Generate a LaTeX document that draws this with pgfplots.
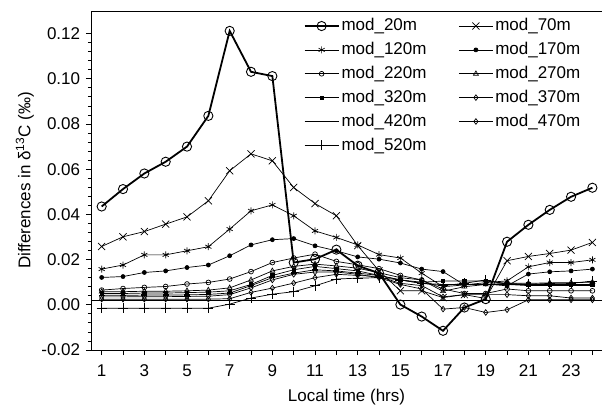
\documentclass[border=0pt]{standalone}
\usepackage{pgfplots}
\pgfplotsset{compat=1.18}
\usepackage{fontspec}
\setmainfont{Liberation Sans}
\begin{document}
\fontsize{17}{20}\selectfont
\begin{tikzpicture}
\begin{axis}[
  name=ax,
  scale only axis=true,
  width=511pt, height=339pt,
  xmin=0.5, xmax=24.45,
  ymin=-0.02, ymax=0.13,
  axis line style={line width=0.8pt},
  tick align=outside,
  tick pos=left,
  major tick length=5pt,
  minor tick length=3pt,
  every tick/.style={black, line width=0.8pt},
  xtick={1,...,24},
  xticklabels={1,,3,,5,,7,,9,,11,,13,,15,,17,,19,,21,,23,},
  ytick={-0.02,0,0.02,0.04,0.06,0.08,0.10,0.12},
  minor y tick num=4,
  yticklabel style={/pgf/number format/.cd, fixed, fixed zerofill, precision=2, assume math mode=true},
  xticklabel style={/pgf/number format/assume math mode=true, yshift=-4pt},
  xlabel={Local time (hrs)},
  ylabel={Differences in δ\textsuperscript{13}C (‰)},
  xlabel style={yshift=-1pt},
  ylabel style={yshift=-4pt},
  legend columns=2,
  legend cell align=left,
  legend style={draw=none, fill=none, at={(0.41,0.99)}, anchor=north west,
    /tikz/every even column/.append style={column sep=30pt},
    row sep=5pt, font=\fontsize{17}{20}\selectfont},
  legend image code/.code={\draw[#1] (0pt,0pt) -- (17pt,0pt) plot coordinates {(17pt,0pt)} -- (34pt,0pt);},
  every axis plot/.append style={black, line width=0.7pt},
]
% reference line
\addplot[forget plot, line width=0.7pt] coordinates {(0.5,0.002) (24.45,0.002)};

\addplot[line width=1.8pt, mark=o, mark size=4.6pt, mark options={line width=0.9pt, fill=none}] coordinates {
(1,0.0435)(2,0.0512)(3,0.0581)(4,0.0633)(5,0.0700)(6,0.0836)(7,0.1212)(8,0.1031)(9,0.1012)(10,0.0187)(11,0.0202)(12,0.0244)(13,0.0173)(14,0.0140)(15,0.0001)(16,-0.0052)(17,-0.0115)(18,-0.0012)(19,0.0025)(20,0.0279)(21,0.0354)(22,0.0420)(23,0.0478)(24,0.0518)};
\addlegendentry{mod\_20m}

\addplot[mark=x, mark size=5pt, mark options={line width=0.7pt}] coordinates {
(1,0.0258)(2,0.0301)(3,0.0324)(4,0.0357)(5,0.0389)(6,0.0460)(7,0.0593)(8,0.0668)(9,0.0637)(10,0.0519)(11,0.0448)(12,0.0394)(13,0.0262)(14,0.0150)(15,0.0062)(16,0.0062)(17,0.0032)(18,0.0045)(19,0.0028)(20,0.0195)(21,0.0214)(22,0.0227)(23,0.0242)(24,0.0276)};
\addlegendentry{mod\_70m}

\addplot[mark=asterisk, mark size=3.5pt, mark options={line width=0.7pt}] coordinates {
(1,0.0158)(2,0.0176)(3,0.0221)(4,0.0221)(5,0.0239)(6,0.0257)(7,0.0335)(8,0.0416)(9,0.0442)(10,0.0394)(11,0.0327)(12,0.0298)(13,0.0265)(14,0.0222)(15,0.0207)(16,0.0140)(17,0.0080)(18,0.0088)(19,0.0098)(20,0.0106)(21,0.0168)(22,0.0187)(23,0.0187)(24,0.0199)};
\addlegendentry{mod\_120m}

\addplot[mark=*, mark size=2pt] coordinates {
(1,0.0121)(2,0.0125)(3,0.0143)(4,0.0150)(5,0.0165)(6,0.0176)(7,0.0217)(8,0.0265)(9,0.0288)(10,0.0293)(11,0.0261)(12,0.0239)(13,0.0212)(14,0.0202)(15,0.0185)(16,0.0158)(17,0.0147)(18,0.0088)(19,0.0092)(20,0.0084)(21,0.0136)(22,0.0146)(23,0.0150)(24,0.0158)};
\addlegendentry{mod\_170m}

\addplot[mark=o, mark size=2.4pt, mark options={fill=white}] coordinates {
(1,0.0065)(2,0.0072)(3,0.0077)(4,0.0081)(5,0.0092)(6,0.0099)(7,0.0114)(8,0.0147)(9,0.0187)(10,0.0207)(11,0.0224)(12,0.0192)(13,0.0177)(14,0.0160)(15,0.0130)(16,0.0110)(17,0.0070)(18,0.0050)(19,0.0050)(20,0.0070)(21,0.0062)(22,0.0062)(23,0.0062)(24,0.0062)};
\addlegendentry{mod\_220m}

\addplot[mark=triangle, mark size=2.8pt, mark options={fill=white}] coordinates {
(1,0.0058)(2,0.0058)(3,0.0060)(4,0.0060)(5,0.0062)(6,0.0065)(7,0.0075)(8,0.0110)(9,0.0150)(10,0.0170)(11,0.0180)(12,0.0172)(13,0.0162)(14,0.0142)(15,0.0120)(16,0.0110)(17,0.0060)(18,0.0080)(19,0.0090)(20,0.0095)(21,0.0095)(22,0.0097)(23,0.0098)(24,0.0100)};
\addlegendentry{mod\_270m}

\addplot[mark=square*, mark size=1.7pt] coordinates {
(1,0.0050)(2,0.0050)(3,0.0052)(4,0.0052)(5,0.0054)(6,0.0056)(7,0.0062)(8,0.0090)(9,0.0130)(10,0.0155)(11,0.0170)(12,0.0160)(13,0.0150)(14,0.0130)(15,0.0110)(16,0.0100)(17,0.0105)(18,0.0105)(19,0.0105)(20,0.0095)(21,0.0090)(22,0.0090)(23,0.0090)(24,0.0090)};
\addlegendentry{mod\_320m}

\addplot[mark=diamond, mark size=2.8pt, mark options={fill=white}] coordinates {
(1,0.0035)(2,0.0035)(3,0.0036)(4,0.0036)(5,0.0037)(6,0.0038)(7,0.0045)(8,0.0075)(9,0.0110)(10,0.0135)(11,0.0145)(12,0.0145)(13,0.0135)(14,0.0120)(15,0.0090)(16,0.0070)(17,-0.0019)(18,-0.0012)(19,-0.0034)(20,-0.0022)(21,0.0022)(22,0.0022)(23,0.0022)(24,0.0022)};
\addlegendentry{mod\_370m}

\addplot[mark=-, mark size=3pt, mark options={line width=1.6pt}] coordinates {
(1,0.0042)(2,0.0042)(3,0.0043)(4,0.0043)(5,0.0044)(6,0.0046)(7,0.0052)(8,0.0085)(9,0.0120)(10,0.0140)(11,0.0155)(12,0.0150)(13,0.0140)(14,0.0130)(15,0.0110)(16,0.0095)(17,0.0090)(18,0.0090)(19,0.0090)(20,0.0090)(21,0.0085)(22,0.0085)(23,0.0085)(24,0.0085)};
\addlegendentry{mod\_420m}

\addplot[mark=diamond, mark size=2.8pt, mark options={fill=white}] coordinates {
(1,0.0025)(2,0.0025)(3,0.0025)(4,0.0025)(5,0.0025)(6,0.0025)(7,0.0027)(8,0.0055)(9,0.0074)(10,0.0096)(11,0.0120)(12,0.0135)(13,0.0130)(14,0.0125)(15,0.0095)(16,0.0085)(17,0.0035)(18,0.0045)(19,0.0045)(20,0.0045)(21,0.0040)(22,0.0040)(23,0.0030)(24,0.0030)};
\addlegendentry{mod\_470m}

\addplot[mark=+, mark size=5pt, mark options={line width=0.7pt}] coordinates {
(1,-0.0015)(2,-0.0015)(3,-0.0015)(4,-0.0015)(5,-0.0015)(6,-0.0015)(7,0.0003)(8,0.0030)(9,0.0047)(10,0.0058)(11,0.0084)(12,0.0114)(13,0.0118)(14,0.0120)(15,0.0110)(16,0.0095)(17,0.0085)(18,0.0095)(19,0.0110)(20,0.0090)(21,0.0090)(22,0.0095)(23,0.0095)(24,0.0105)};
\addlegendentry{mod\_520m}
\end{axis}
\pgfresetboundingbox
\path (ax.south west) ++(-91pt,-63pt) rectangle ++(602pt,413pt);
\end{tikzpicture}
\end{document}
